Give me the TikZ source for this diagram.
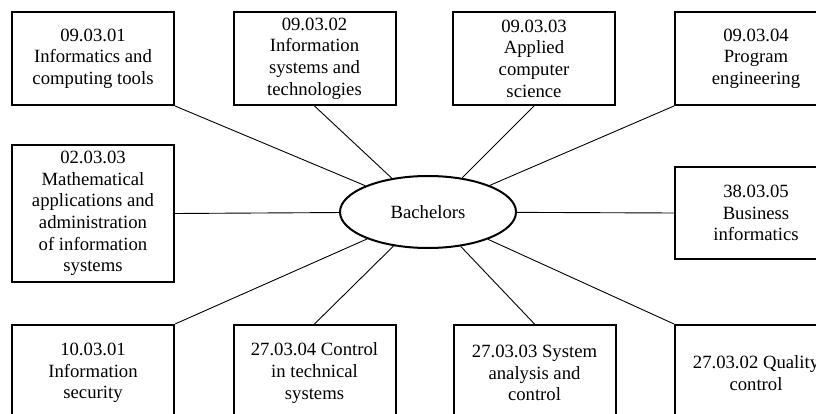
\documentclass[tikz,border=0pt]{standalone}
\usepackage{fontspec}
\setmainfont{Liberation Serif}
\usetikzlibrary{shapes.geometric}
\begin{document}
\begin{tikzpicture}[x=1pt,y=-1pt,
  box/.style={draw=black,line width=2pt,minimum width=162pt,minimum height=93pt,inner sep=0pt,align=center,font=\fontsize{18.7}{21.6}\selectfont},
  hub/.style={draw=black,line width=2pt,ellipse,minimum width=176pt,minimum height=72pt,inner sep=0pt,font=\fontsize{18.7}{21.6}\selectfont},
  link/.style={draw=black,line width=0.9pt}]
\useasboundingbox (0,0) rectangle (816,414);
\fill[white] (0,0) rectangle (816,414);
\clip (0,0) rectangle (816,414);
\node[hub] (c) at (428,212) {Bachelors};
\node[box] (b1) at (93,58.5) {09.03.01\\Informatics and\\computing tools};
\node[box] (b2) at (314.5,58.5) {09.03.02\\Information\\systems and\\technologies};
\node[box] (b3) at (534,58.5) {09.03.03\\Applied\\computer\\science};
\node[box] (b4) at (756,58.5) {09.03.04\\Program\\engineering};
\node[box,minimum height=137pt] (m1) at (93,213.5) {02.03.03\\Mathematical\\applications and\\administration\\of information\\systems};
\node[box,minimum height=92pt] (m2) at (756,213) {38.03.05\\Business\\informatics};
\node[box,minimum height=96pt] (d1) at (93,373) {10.03.01\\Information\\security};
\node[box,minimum height=96pt] (d2) at (314.5,373) {27.03.04 Control\\in technical\\systems};
\node[box,minimum height=96pt] (d3) at (534.5,373) {27.03.03 System\\analysis and\\control};
\node[box,minimum height=96pt] (d4) at (756,373) {27.03.02 Quality\\control};
\draw[link] (b1.south east) -- (c);
\draw[link] (b2.south) -- (c);
\draw[link] (b3.south) -- (c);
\draw[link] (b4.south west) -- (c);
\draw[link] (m1.east) -- (c);
\draw[link] (m2.west) -- (c);
\draw[link] (d1.north east) -- (c);
\draw[link] (d2.north) -- (c);
\draw[link] (d3.north) -- (c);
\draw[link] (d4.north west) -- (c);
\end{tikzpicture}
\end{document}
